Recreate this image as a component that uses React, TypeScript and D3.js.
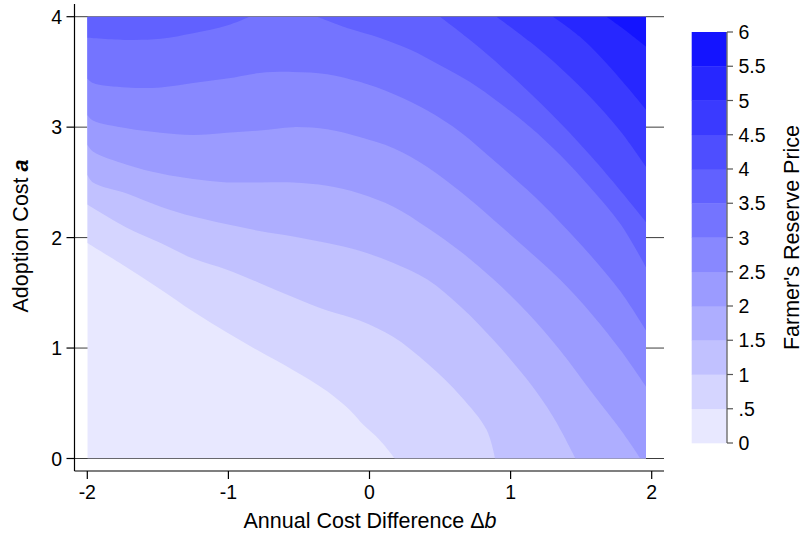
import React from "react";
import * as d3 from "d3";

// ---- data ----
const xTicks = [-2, -1, 0, 1, 2];
const yTicks = [0, 1, 2, 3, 4];
const legendTicks = [0, 0.5, 1, 1.5, 2, 2.5, 3, 3.5, 4, 4.5, 5, 5.5, 6];
const legendLabels = ["0", ".5", "1", "1.5", "2", "2.5", "3", "3.5", "4", "4.5", "5", "5.5", "6"];
const levels = [0.5, 1, 1.5, 2, 2.5, 3, 3.5, 4, 4.5, 5, 5.5];
const gridX = [-2, 1.96];
const gridY = [0, 4];

// contour lines (Δb, a), each ordered from its start edge to its end edge
const c05: [number, number][] = [[-2, 1.95], [-1.72, 1.73], [-1.48, 1.53], [-1.25, 1.33], [-1.01, 1.14], [-0.78, 0.97], [-0.54, 0.8], [-0.3, 0.61], [-0.14, 0.44], [-0.04, 0.3], [0.07, 0.17], [0.18, 0]];
const c10: [number, number][] = [[-2, 2.3], [-1.91, 2.23], [-1.72, 2.09], [-1.48, 1.95], [-1.25, 1.81], [-1.01, 1.71], [-0.78, 1.59], [-0.54, 1.46], [-0.3, 1.34], [-0.07, 1.25], [0.17, 1.1], [0.41, 0.86], [0.65, 0.56], [0.83, 0.26], [0.89, 0]];
const c15: [number, number][] = [[-2, 2.57], [-1.96, 2.5], [-1.72, 2.4], [-1.48, 2.28], [-1.25, 2.19], [-1.01, 2.12], [-0.78, 2.06], [-0.54, 2.01], [-0.3, 1.95], [-0.07, 1.88], [0.17, 1.77], [0.41, 1.62], [0.65, 1.37], [0.88, 1.07], [1.12, 0.71], [1.3, 0.38], [1.46, 0]];
const c20: [number, number][] = [[-2, 2.84], [-1.96, 2.78], [-1.72, 2.66], [-1.48, 2.58], [-1.25, 2.53], [-1.01, 2.5], [-0.78, 2.5], [-0.54, 2.5], [-0.3, 2.47], [-0.07, 2.4], [0.17, 2.28], [0.41, 2.09], [0.65, 1.87], [0.88, 1.62], [1.12, 1.32], [1.35, 0.98], [1.58, 0.59], [1.78, 0.26], [1.92, 0]];
const c25: [number, number][] = [[-2, 3.11], [-1.96, 3.06], [-1.72, 2.99], [-1.48, 2.95], [-1.25, 2.93], [-1.01, 2.95], [-0.78, 2.97], [-0.54, 3.0], [-0.3, 2.98], [-0.07, 2.91], [0.17, 2.81], [0.41, 2.64], [0.65, 2.41], [0.88, 2.16], [1.12, 1.89], [1.35, 1.62], [1.58, 1.3], [1.78, 0.98], [1.96, 0.65]];
const c30: [number, number][] = [[-2, 3.44], [-1.96, 3.4], [-1.72, 3.36], [-1.48, 3.36], [-1.25, 3.4], [-1.01, 3.44], [-0.78, 3.49], [-0.54, 3.5], [-0.3, 3.48], [-0.07, 3.41], [0.17, 3.3], [0.41, 3.15], [0.65, 2.95], [0.88, 2.7], [1.12, 2.43], [1.35, 2.14], [1.58, 1.82], [1.78, 1.51], [1.96, 1.16]];
const c35a: [number, number][] = [[-2, 3.81], [-1.72, 3.79], [-1.48, 3.8], [-1.25, 3.85], [-1.01, 3.92], [-0.85, 4]];
const c35b: [number, number][] = [[-0.37, 4], [-0.14, 3.89], [0.07, 3.81], [0.29, 3.7], [0.5, 3.56], [0.71, 3.41], [0.92, 3.22], [1.14, 3.0], [1.35, 2.75], [1.56, 2.46], [1.78, 2.12], [1.96, 1.73]];
const c40: [number, number][] = [[0.5, 4], [0.78, 3.72], [1.07, 3.39], [1.35, 3.04], [1.63, 2.65], [1.96, 2.14]];
const c45: [number, number][] = [[0.9, 4], [1.14, 3.77], [1.35, 3.54], [1.56, 3.28], [1.78, 2.96], [1.96, 2.64]];
const c50: [number, number][] = [[1.3, 4], [1.49, 3.82], [1.7, 3.55], [1.96, 3.16]];
const c55: [number, number][] = [[1.68, 4], [1.81, 3.88], [1.96, 3.73]];

const contourPieces = [
  { level: 0.5, pts: c05 },
  { level: 1, pts: c10 },
  { level: 1.5, pts: c15 },
  { level: 2, pts: c20 },
  { level: 2.5, pts: c25 },
  { level: 3, pts: c30 },
  { level: 3.5, pts: c35a },
  { level: 3.5, pts: c35b },
  { level: 4, pts: c40 },
  { level: 4.5, pts: c45 },
  { level: 5, pts: c50 },
  { level: 5.5, pts: c55 },
];

// ---- layout ----
const W = 805;
const H = 540;
const x = d3.scaleLinear().domain([-2, 2]).range([87.3, 651.7]);
const y = d3.scaleLinear().domain([0, 4]).range([458.5, 16.7]);
const legY = d3.scaleLinear().domain([0, 6]).range([443, 32]);
const plotLeft = 74.5;
const plotRight = 664;
const plotTop = 4;
const axisY = 471;
const FONT = "'Liberation Sans', Arial, Helvetica, sans-serif";
const TICK_FS = 19.5;
const TITLE_FS = 21.5;

const bandColor = (k: number) => {
  const v = Math.round(232 - k * 19.3);
  return `rgb(${v},${v},255)`;
};

const [xmin, xmax] = gridX;
const [ymin, ymax] = gridY;
const GW = xmax - xmin;
const GH = ymax - ymin;
const PER = 2 * GW + 2 * GH;
const eps = 1e-6;
function perim(p: [number, number]) {
  const [px, py] = p;
  if (Math.abs(py - ymin) < eps) return px - xmin;
  if (Math.abs(px - xmax) < eps) return GW + (py - ymin);
  if (Math.abs(py - ymax) < eps) return GW + GH + (xmax - px);
  return 2 * GW + GH + (ymax - py);
}
const corners: { p: [number, number]; s: number }[] = [
  { p: [xmax, ymin], s: GW },
  { p: [xmax, ymax], s: GW + GH },
  { p: [xmin, ymax], s: 2 * GW + GH },
  { p: [xmin, ymin], s: 0 },
];

const lineGen = d3
  .line<[number, number]>()
  .x((d) => x(d[0]))
  .y((d) => y(d[1]))
  .curve(d3.curveCatmullRom.alpha(0.5));

function regionPath(pts: [number, number][]) {
  const start = pts[0];
  const end = pts[pts.length - 1];
  const sS = perim(start);
  const sE = perim(end);
  const d = (sS - sE + PER) % PER;
  const cs = corners
    .map((c) => ({ p: c.p, dc: (c.s - sE + PER) % PER }))
    .filter((c) => c.dc > 0 && c.dc < d)
    .sort((a, b) => a.dc - b.dc);
  let path = lineGen(pts) || "";
  cs.forEach((c) => {
    path += `L${x(c.p[0])},${y(c.p[1])}`;
  });
  return path + "Z";
}

export default function App() {
  const levelIndex = (lv: number) => levels.indexOf(lv) + 1;
  return (
    <svg
      width={W}
      height={H}
      style={{ position: "absolute", left: 0, top: 0, background: "#fff" }}
      fontFamily={FONT}
    >
      <defs>
        <clipPath id="gridClip">
          <rect x={x(xmin)} y={y(ymax)} width={x(xmax) - x(xmin)} height={y(ymin) - y(ymax)} />
        </clipPath>
      </defs>
      {/* gridlines */}
      {yTicks.map((t) => (
        <line key={"g" + t} x1={plotLeft} x2={plotRight} y1={y(t)} y2={y(t)} stroke="#3c3c3c" strokeWidth={1} />
      ))}
      {/* contour fill */}
      <g clipPath="url(#gridClip)">
        <rect x={x(xmin)} y={y(ymax)} width={x(xmax) - x(xmin)} height={y(ymin) - y(ymax)} fill={bandColor(0)} />
        {contourPieces.map((c, i) => (
          <path key={"c" + i} d={regionPath(c.pts)} fill={bandColor(levelIndex(c.level))} />
        ))}
      </g>
      {/* y axis */}
      <line x1={plotLeft} x2={plotLeft} y1={plotTop} y2={axisY} stroke="#000" strokeWidth={1.2} />
      {yTicks.map((t) => (
        <g key={"yt" + t}>
          <line x1={plotLeft - 8} x2={plotLeft} y1={y(t)} y2={y(t)} stroke="#000" strokeWidth={1.2} />
          <text x={62} y={y(t)} dy="0.36em" textAnchor="end" fontSize={TICK_FS} fill="#000">
            {t}
          </text>
        </g>
      ))}
      {/* x axis */}
      <line x1={plotLeft} x2={plotRight} y1={axisY} y2={axisY} stroke="#000" strokeWidth={1.2} />
      {xTicks.map((t) => (
        <g key={"xt" + t}>
          <line x1={x(t)} x2={x(t)} y1={axisY} y2={axisY + 8} stroke="#000" strokeWidth={1.2} />
          <text x={x(t)} y={498.7} textAnchor="middle" fontSize={TICK_FS} fill="#000">
            {t}
          </text>
        </g>
      ))}
      <text x={370} y={528} textAnchor="middle" fontSize={TITLE_FS} fill="#000">
        Annual Cost Difference Δ<tspan fontStyle="italic">b</tspan>
      </text>
      <text transform="translate(27.7,236) rotate(-90)" textAnchor="middle" fontSize={TITLE_FS} fill="#000">
        Adoption Cost <tspan fontStyle="italic" fontWeight="bold">a</tspan>
      </text>
      {/* legend */}
      {levels.concat([6]).map((lv, k) => (
        <rect
          key={"lb" + k}
          x={691.7}
          y={legY(legendTicks[k + 1])}
          width={35}
          height={legY(legendTicks[k]) - legY(legendTicks[k + 1]) + 0.3}
          fill={bandColor(k)}
        />
      ))}
      <line x1={727} x2={727} y1={legY(6)} y2={legY(0)} stroke="#555" strokeWidth={1.2} />
      {legendTicks.map((t, i) => (
        <g key={"lt" + i}>
          <line x1={727} x2={733} y1={legY(t)} y2={legY(t)} stroke="#555" strokeWidth={1.2} />
          <text x={738.5} y={legY(t)} dy="0.36em" fontSize={TICK_FS} fill="#000">
            {legendLabels[i]}
          </text>
        </g>
      ))}
      <text transform="translate(798.5,237.5) rotate(-90)" textAnchor="middle" fontSize={TITLE_FS} fill="#000">
        Farmer's Reserve Price
      </text>
    </svg>
  );
}
